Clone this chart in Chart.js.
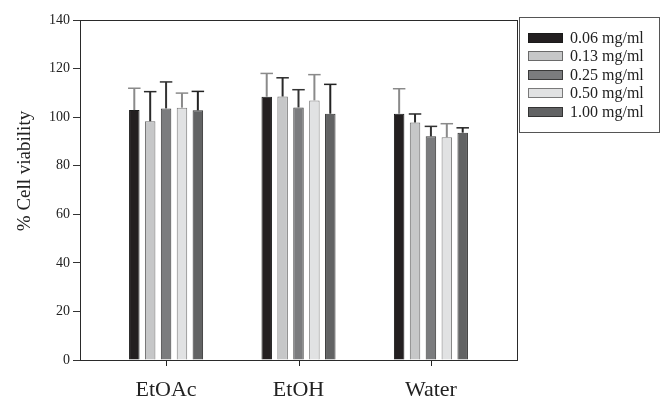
<!DOCTYPE html>
<html>
<head>
<meta charset="utf-8">
<script src="https://cdn.jsdelivr.net/npm/chart.js@4/dist/chart.umd.min.js"></script>
<style>
html,body{margin:0;padding:0;background:#fff;}
#wrap{width:660px;height:399px;}
</style>
</head>
<body>
<div id="wrap"><canvas id="c" width="660" height="399"></canvas></div>
<script>
const categories = ['EtOAc', 'EtOH', 'Water'];
const seriesLabels = ['0.06 mg/ml', '0.13 mg/ml', '0.25 mg/ml', '0.50 mg/ml', '1.00 mg/ml'];
const conc006 = [102.9, 108.4, 101.4];
const conc013 = [98.3, 108.5, 97.8];
const conc025 = [103.6, 104.0, 92.1];
const conc050 = [103.9, 106.9, 91.7];
const conc100 = [102.8, 101.4, 93.6];
const err006 = [9.0, 9.6, 10.3];
const err013 = [12.2, 7.7, 3.5];
const err025 = [10.9, 7.3, 4.1];
const err050 = [6.0, 10.6, 5.6];
const err100 = [7.8, 12.1, 2.0];
const yTicks = [0, 20, 40, 60, 80, 100, 120, 140];

const seriesValues = [conc006, conc013, conc025, conc050, conc100];
const seriesErrors = [err006, err013, err025, err050, err100];
const fills = ['#231f20', '#c6c7c8', '#7b7c7e', '#e1e2e3', '#626364'];
const borders = ['#1a1a1a', '#6a6a6a', '#3a3a3a', '#7a7a7a', '#333333'];
const errColors = ['#8a8a8a', '#2a2a2a', '#333333', '#8a8a8a', '#222222'];

const SERIF = "'Liberation Serif', 'DejaVu Serif', serif";

const datasets = seriesValues.map((vals, i) => ({
  label: seriesLabels[i],
  data: vals.map((v, j) => ({x: j + 1, y: v})),
  errors: seriesErrors[i],
  backgroundColor: fills[i],
  borderColor: borders[i],
  borderWidth: 1,
  categoryPercentage: 0.6,
  barPercentage: 0.66
}));

const errorBars = {
  id: 'errorBars',
  afterDatasetsDraw(chart) {
    const ctx = chart.ctx;
    const ys = chart.scales.y;
    chart.data.datasets.forEach((ds, i) => {
      const meta = chart.getDatasetMeta(i);
      meta.data.forEach((bar, j) => {
        const v = ds.data[j].y, e = ds.errors[j];
        const top = ys.getPixelForValue(v + e);
        const base = ys.getPixelForValue(v);
        const half = bar.width / 2 + 1;
        ctx.save();
        ctx.strokeStyle = errColors[i];
        ctx.lineWidth = 2;
        ctx.beginPath();
        ctx.moveTo(bar.x, base);
        ctx.lineTo(bar.x, top);
        ctx.stroke();
        ctx.lineWidth = 1.5;
        ctx.beginPath();
        ctx.moveTo(bar.x - half, top);
        ctx.lineTo(bar.x + half, top);
        ctx.stroke();
        ctx.restore();
      });
    });
  }
};

const frameAndLegend = {
  id: 'frameAndLegend',
  afterDraw(chart) {
    const ctx = chart.ctx;
    const a = chart.chartArea;
    ctx.save();
    ctx.strokeStyle = '#2a2a2a';
    ctx.lineWidth = 1;
    ctx.strokeRect(Math.round(a.left) + 0.5, Math.round(a.top) + 0.5,
                   Math.round(a.right - a.left), Math.round(a.bottom - a.top));
    // x tick marks at category positions
    const xs = chart.scales.x;
    ctx.strokeStyle = '#222';
    ctx.lineWidth = 1;
    const b = Math.round(a.bottom);
    categories.forEach((c, i) => {
      const px = Math.round(xs.getPixelForValue(i + 1)) + 0.5;
      ctx.beginPath();
      ctx.moveTo(px, b + 1);
      ctx.lineTo(px, b + 6);
      ctx.stroke();
    });
    ctx.fillStyle = '#222';
    ctx.font = '19px ' + SERIF;
    ctx.textAlign = 'center';
    ctx.textBaseline = 'middle';
    ctx.translate(25, 171);
    ctx.rotate(-Math.PI / 2);
    ctx.fillText('% Cell viability', 0, 0);
    ctx.restore();

    ctx.save();
    const lx = 519, ly = 17, lw = 140, lh = 115;
    ctx.fillStyle = '#fff';
    ctx.fillRect(lx, ly, lw, lh);
    ctx.strokeStyle = '#555';
    ctx.lineWidth = 1;
    ctx.strokeRect(lx + 0.5, ly + 0.5, lw, lh);
    ctx.font = '16px ' + SERIF;
    ctx.textAlign = 'left';
    ctx.textBaseline = 'middle';
    chart.data.datasets.forEach((ds, i) => {
      const cy = 37.7 + i * 18.5;
      ctx.fillStyle = ds.backgroundColor;
      ctx.fillRect(528, Math.round(cy - 5), 35, 10);
      ctx.strokeStyle = ds.borderColor;
      ctx.strokeRect(528.5, Math.round(cy - 5) + 0.5, 34, 9);
      ctx.fillStyle = '#222';
      ctx.fillText(ds.label, 570, cy + 1);
    });
    ctx.restore();
  }
};

new Chart(document.getElementById('c'), {
  type: 'bar',
  data: { datasets },
  options: {
    responsive: false,
    animation: false,
    layout: { padding: { top: 20, right: 143, left: 0, bottom: 0 } },
    plugins: { legend: { display: false }, tooltip: { enabled: false } },
    scales: {
      x: {
        type: 'linear',
        min: 0.35,
        max: 3.65,
        offset: false,
        afterBuildTicks: s => { s.ticks = categories.map((c, i) => ({ value: i + 1 })); },
        afterFit: s => { s.height = 39; },
        grid: { display: false, drawOnChartArea: false, offset: false, tickLength: 5 },
        border: { display: true, color: '#2a2a2a', width: 1 },
        ticks: {
          callback: v => categories[Math.round(v) - 1],
          font: { family: SERIF, size: 22 },
          color: '#222',
          padding: 12,
          maxRotation: 0,
          autoSkip: false
        }
      },
      y: {
        min: 0,
        max: 140,
        afterBuildTicks: s => { s.ticks = yTicks.map(v => ({ value: v })); },
        afterFit: s => { s.width = 80; },
        grid: { drawOnChartArea: false, tickLength: 7, color: '#333', tickWidth: 1 },
        border: { display: true, color: '#2a2a2a', width: 1 },
        ticks: {
          font: { family: SERIF, size: 14 },
          color: '#222',
          padding: 3
        }
      }
    }
  },
  plugins: [errorBars, frameAndLegend]
});
</script>
</body>
</html>
